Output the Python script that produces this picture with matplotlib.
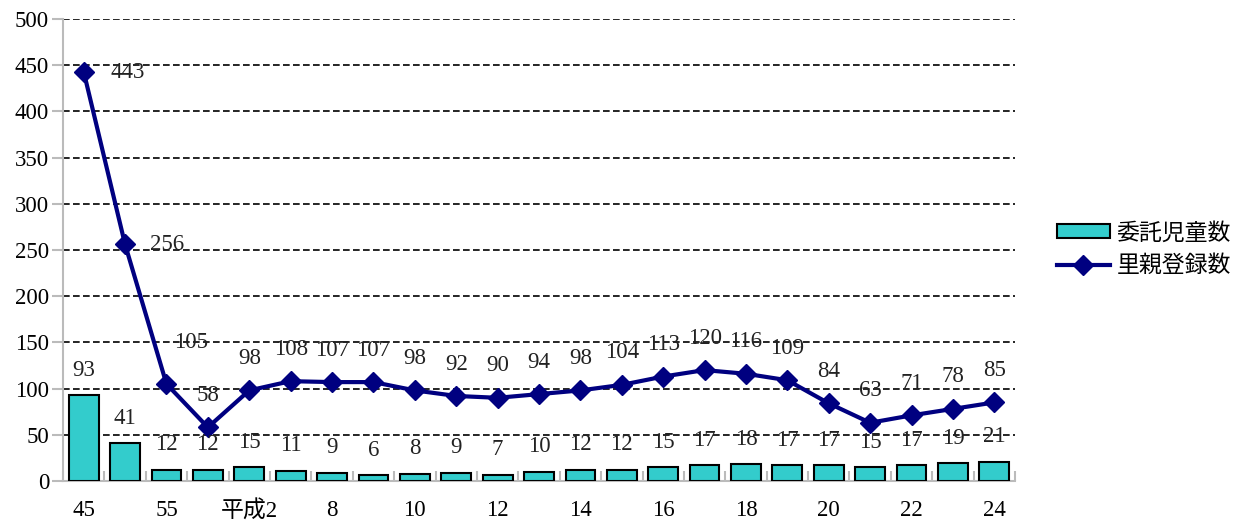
import matplotlib.pyplot as plt
import numpy as np

plt.rcParams['font.family'] = ['Liberation Serif', 'Noto Sans CJK JP']

years = ['45', '50', '55', '60', '平成2', '7', '8', '9', '10', '11', '12', '13',
         '14', '15', '16', '17', '18', '19', '20', '21', '22', '23', '24']
children = [93, 41, 12, 12, 15, 11, 9, 6, 8, 9, 7, 10, 12, 12, 15, 17, 18, 17, 17, 15, 17, 19, 21]
parents = [443, 256, 105, 58, 98, 108, 107, 107, 98, 92, 90, 94, 98, 104, 113, 120, 116, 109,
           84, 63, 71, 78, 85]

x = np.arange(len(years))
fs = 16.5

fig = plt.figure(figsize=(12.47, 5.26), dpi=100)
ax = fig.add_axes([0.0505, 0.0856, 0.7635, 0.8784])

bars = ax.bar(x, children, width=0.72, color='#33CCCC', edgecolor='black', linewidth=1.5,
              label='委託児童数', zorder=3)
line, = ax.plot(x, parents, color='#000080', linewidth=3, marker='D', markersize=10,
                label='里親登録数', zorder=4)

# data labels
for xi, v in zip(x, children):
    ax.annotate(str(v), (xi, v), xytext=(0, 18), textcoords='offset points',
                ha='center', va='center', fontsize=fs, color='#222222', zorder=5)
offsets = {0: (32, -1), 1: (30, 0), 2: (18, 30)}
for xi, v in zip(x, parents):
    off = offsets.get(xi, (0, 23))
    ax.annotate(str(v), (xi, v), xytext=off, textcoords='offset points',
                ha='center', va='center', fontsize=fs, color='#222222', zorder=5)

ax.set_xlim(-0.5, len(years) - 0.5)
ax.set_ylim(0, 500)
ax.set_yticks(range(0, 501, 50))
ax.set_xticks(x)
ax.set_xticklabels([y if i % 2 == 0 else '' for i, y in enumerate(years)], fontsize=fs)
ax.set_xticks(np.arange(-0.5, len(years), 1), minor=True)
ax.tick_params(axis='x', which='major', length=0, pad=14)
ax.tick_params(axis='x', which='minor', direction='in', length=7, color='#bbbbbb', width=1.5)
ax.tick_params(axis='y', direction='out', length=8, color='#bbbbbb', width=1.5, labelsize=fs, pad=2)

for yv in range(50, 501, 50):
    ax.axhline(yv, color='black', linestyle=(0, (4, 2)), linewidth=1.2, zorder=1)

for s in ['top', 'right']:
    ax.spines[s].set_visible(False)
for s in ['left', 'bottom']:
    ax.spines[s].set_color('#bbbbbb')
    ax.spines[s].set_linewidth(1.5)

ax.legend([bars, line], ['委託児童数', '里親登録数'], loc='center left',
          bbox_to_anchor=(1.044, 0.5), frameon=False, fontsize=fs, borderpad=0,
          borderaxespad=0, handlelength=2.3, handleheight=0.6, labelspacing=0.5,
          handletextpad=0.3)

fig.savefig('out.png', dpi=100)
